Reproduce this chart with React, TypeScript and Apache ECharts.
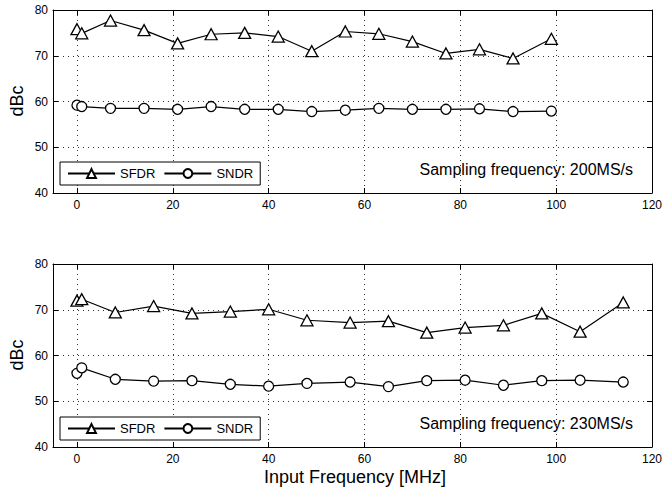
import React, { useEffect, useRef } from "react";
import * as echarts from "echarts";

// Top panel: sampling frequency 200MS/s
const freq200 = [0, 1, 7, 14, 21, 28, 35, 42, 49, 56, 63, 70, 77, 84, 91, 99];
const sfdr200 = [75.8, 74.9, 77.7, 75.6, 72.7, 74.7, 75.0, 74.2, 71.0, 75.3, 74.8, 73.1, 70.5, 71.4, 69.4, 73.7];
const sndr200 = [59.2, 58.9, 58.5, 58.5, 58.3, 58.9, 58.3, 58.3, 57.8, 58.1, 58.5, 58.3, 58.3, 58.4, 57.8, 57.9];

// Bottom panel: sampling frequency 230MS/s
const freq230 = [0, 1, 8, 16, 24, 32, 40, 48, 57, 65, 73, 81, 89, 97, 105, 114];
const sfdr230 = [72.0, 72.3, 69.4, 70.8, 69.2, 69.6, 70.1, 67.7, 67.2, 67.5, 65.0, 66.1, 66.6, 69.2, 65.2, 71.6];
const sndr230 = [56.1, 57.3, 54.8, 54.4, 54.5, 53.7, 53.3, 53.9, 54.2, 53.2, 54.5, 54.6, 53.5, 54.5, 54.6, 54.2];

const seriesNames = ["SFDR", "SNDR"];
const panelNotes = ["Sampling frequency: 200MS/s", "Sampling frequency: 230MS/s"];
const xTitle = "Input Frequency [MHz]";
const yTitle = "dBc";

const FONT = '"Liberation Sans", Arial, Helvetica, sans-serif';

function pairs(xs: number[], ys: number[]) {
  return xs.map((x, i) => [x, ys[i]]);
}

export default function App() {
  const ref = useRef<HTMLDivElement>(null);

  useEffect(() => {
    if (!ref.current) return;
    const chart = echarts.init(ref.current, undefined, { renderer: "svg" });

    const gridTops = [10, 264];
    const gridH = 183;

    const xBase = (gridIndex: number, position: "bottom" | "top", showLabel: boolean) => ({
      type: "value",
      gridIndex,
      position,
      min: -5,
      max: 120,
      minInterval: 20,
      maxInterval: 20,
      axisLine: { show: true, onZero: false, lineStyle: { color: "#000", width: 1 } },
      axisTick: { show: true, inside: true, length: 5, lineStyle: { color: "#000" } },
      axisLabel: {
        show: showLabel,
        margin: 6,
        color: "#000",
        fontSize: 12,
        fontFamily: FONT,
        showMinLabel: false,
        alignMaxLabel: "center",
        formatter: (v: number) => (v < 0 ? "" : String(v)),
      },
      splitLine: {
        show: position === "bottom",
        lineStyle: { color: "#333", type: [1, 4], width: 1 },
      },
    });

    const yBase = (gridIndex: number, position: "left" | "right", showLabel: boolean) => ({
      type: "value",
      gridIndex,
      position,
      min: 40,
      max: 80,
      interval: 10,
      axisLine: { show: true, onZero: false, lineStyle: { color: "#000", width: 1 } },
      axisTick: { show: true, inside: true, length: 5, lineStyle: { color: "#000" } },
      axisLabel: {
        show: showLabel,
        margin: 5,
        color: "#000",
        fontSize: 12,
        fontFamily: FONT,
      },
      splitLine: {
        show: position === "left",
        lineStyle: { color: "#333", type: [1, 4], width: 1 },
      },
    });

    const mkSeries = (name: string, data: number[][], axisIdx: number) => ({
      name,
      type: "line",
      xAxisIndex: axisIdx,
      yAxisIndex: axisIdx,
      data,
      symbol: name === "SFDR" ? "triangle" : "circle",
      symbolSize: name === "SFDR" ? [12, 11] : 10,
      showSymbol: true,
      lineStyle: { color: "#000", width: 1.2 },
      itemStyle: { color: "#fff", borderColor: "#000", borderWidth: 1.3 },
      z: 3,
    });

    const legendBase = (top: number) => ({
      show: true,
      left: 60,
      top,
      orient: "horizontal",
      data: seriesNames,
      itemWidth: 47,
      itemHeight: 11,
      itemGap: 8,
      padding: [5, 7],
      borderColor: "#000",
      borderWidth: 1,
      backgroundColor: "#fff",
      selectedMode: false,
      textStyle: { color: "#000", fontSize: 13, fontFamily: FONT },
    });

    const option: any = {
      animation: false,
      backgroundColor: "#fff",
      grid: gridTops.map((t) => ({ left: 53, top: t, width: 604, height: gridH, containLabel: false })),
      xAxis: [
        xBase(0, "bottom", true),
        xBase(0, "top", false),
        xBase(1, "bottom", true),
        xBase(1, "top", false),
      ],
      yAxis: [
        yBase(0, "left", true),
        yBase(0, "right", false),
        yBase(1, "left", true),
        yBase(1, "right", false),
      ],
      legend: [legendBase(162), legendBase(417)],
      series: [
        mkSeries(seriesNames[0], pairs(freq200, sfdr200), 0),
        mkSeries(seriesNames[1], pairs(freq200, sndr200), 0),
        mkSeries(seriesNames[0], pairs(freq230, sfdr230), 2),
        mkSeries(seriesNames[1], pairs(freq230, sndr230), 2),
      ],
      graphic: [
        {
          type: "text",
          x: 633,
          y: 169,
          z: 10,
          style: { text: panelNotes[0], align: "right", verticalAlign: "middle", font: `16px ${FONT}`, fill: "#000" },
        },
        {
          type: "text",
          x: 633,
          y: 423,
          z: 10,
          style: { text: panelNotes[1], align: "right", verticalAlign: "middle", font: `16px ${FONT}`, fill: "#000" },
        },
        {
          type: "text",
          x: 17,
          y: 101,
          rotation: Math.PI / 2,
          style: { text: yTitle, align: "center", verticalAlign: "middle", font: `18px ${FONT}`, fill: "#000" },
        },
        {
          type: "text",
          x: 17,
          y: 355,
          rotation: Math.PI / 2,
          style: { text: yTitle, align: "center", verticalAlign: "middle", font: `18px ${FONT}`, fill: "#000" },
        },
        {
          type: "text",
          x: 355,
          y: 477,
          style: { text: xTitle, align: "center", verticalAlign: "middle", font: `18px ${FONT}`, fill: "#000" },
        },
      ],
    };

    chart.setOption(option);
    return () => chart.dispose();
  }, []);

  return (
    <div
      ref={ref}
      style={{ position: "fixed", left: 0, top: 0, width: 665, height: 491, background: "#fff" }}
    />
  );
}
